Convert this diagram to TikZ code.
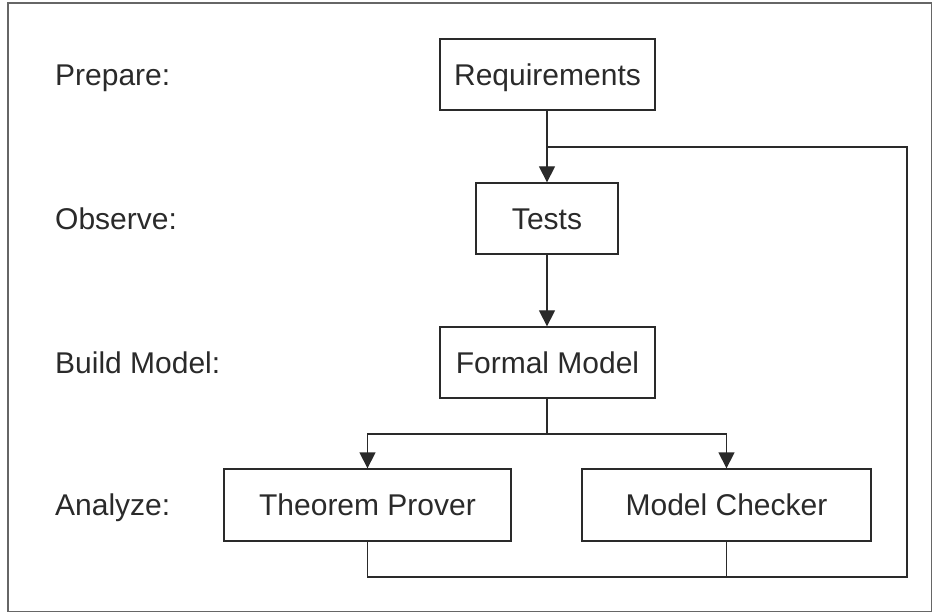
\documentclass[tikz,border=0pt]{standalone}
\usepackage{fontspec}
\setmainfont{Liberation Sans}
\usetikzlibrary{arrows.meta}
\definecolor{ink}{HTML}{2A2A2A}
\definecolor{framegray}{HTML}{666666}
\begin{document}
\begin{tikzpicture}[x=1pt,y=-1pt,
  every node/.style={font=\fontsize{30}{36}\selectfont, text=ink,
    text height=21.5pt, text depth=0pt, inner sep=0pt},
  stagebox/.style={draw=ink, line width=1.3pt, minimum height=71pt},
  phase/.style={anchor=west},
  link/.style={draw=ink, line width=1.3pt},
  flow/.style={link, -{Triangle[width=16pt,length=16pt]}}]
  \useasboundingbox (0,0) rectangle (932,612);
  % outer frame
  \draw[framegray, line width=1.2pt] (8,3) rectangle (932,612);

  % phase labels
  \node[phase] (lprep) at (55,74.5) {Prepare:};
  \node[phase] (lobs)  at (55,218.5) {Observe:};
  \node[phase] (lbuild) at (55,362.5) {Build Model:};
  \node[phase] (lana)  at (55,505) {Analyze:};

  % stage boxes
  \node[stagebox, minimum width=215pt] (req)   at (547.5,74.5)  {Requirements};
  \node[stagebox, minimum width=142pt] (tests) at (547,218.5)   {Tests};
  \node[stagebox, minimum width=215pt] (fm)    at (547.5,362.5) {Formal Model};
  \node[stagebox, minimum width=287pt, minimum height=72pt] (tp) at (367.5,505) {Theorem Prover};
  \node[stagebox, minimum width=289pt, minimum height=72pt] (mc) at (726.5,505) {Model Checker};

  % helper points
  \coordinate (fork)  at (547,147);
  \coordinate (split) at (547,434);
  \coordinate (loopBR) at (907,577);

  % main flow
  \draw[flow] (req.south -| fork) -- (tests.north -| fork);
  \draw[flow] (tests.south -| fork) -- (fm.north -| fork);
  \draw[link] (fm.south -| split) -- (split);
  \draw[flow] (split) -| (tp.north);
  \draw[flow] (split) -| (mc.north);

  % feedback loop from the analysis tools back to the tests
  \draw[link] (tp.south) |- (loopBR) |- (fork);
  \draw[link] (mc.south) -- (mc.south |- loopBR);
\end{tikzpicture}
\end{document}
